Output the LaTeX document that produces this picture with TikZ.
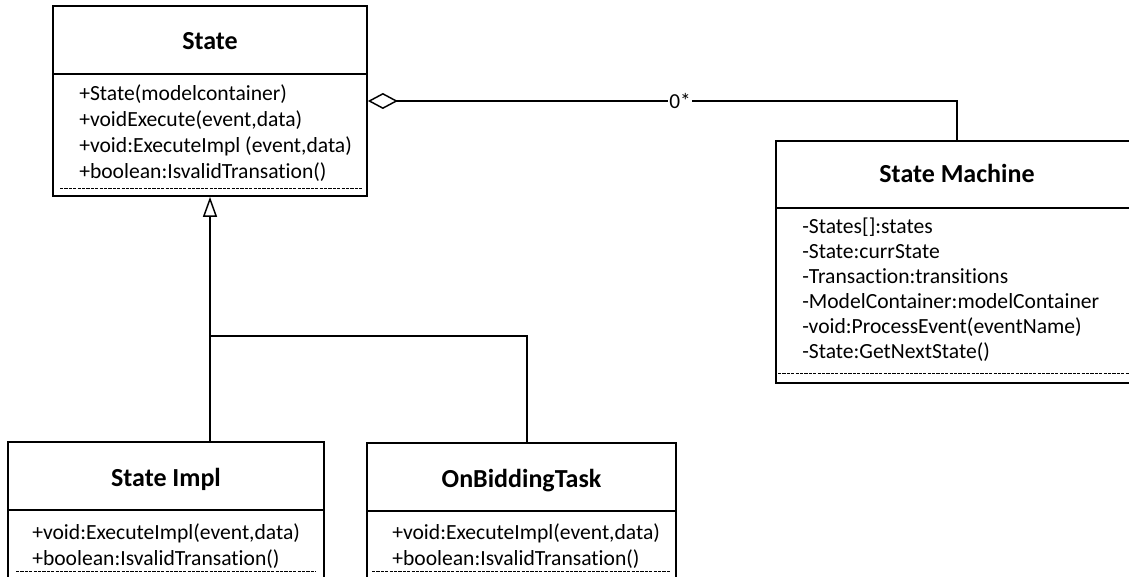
\documentclass[tikz,border=0pt]{standalone}
\usepackage{fontspec}
\setmainfont{Carlito}[Ligatures={NoCommon,NoContextual}]
\usetikzlibrary{arrows.meta}

\tikzset{
  classbox/.style={draw, line width=1.3pt, rectangle, inner sep=0pt, fill=white},
  divider/.style={line width=1.2pt},
  opsep/.style={line width=0.6pt, dash pattern=on 2.4pt off 0.9pt},
  title/.style={anchor=base, inner sep=0pt, font=\fontsize{19.5}{23}\selectfont\bfseries},
  member/.style={anchor=base west, inner sep=0pt, font=\fontsize{16.2}{19}\selectfont},
  link/.style={line width=1.2pt},
  aggregation/.style={link, {Diamond[open, length=22.5pt, width=12pt, line width=1.1pt]}-},
  generalization/.style={link, -{Triangle[open, length=15pt, width=10.5pt, line width=1.1pt]}},
  mult/.style={fill=white, inner sep=1pt, font=\fontsize{16}{19}\selectfont}
}

\begin{document}
\begin{tikzpicture}[x=0.75pt, y=-0.75pt]
\useasboundingbox (0,0) rectangle (1129,577);
\fill[white] (0,0) rectangle (1129,577);
\clip (0,0) rectangle (1129,577);

% ---- State ----
\node[classbox, minimum width=314*0.75pt, minimum height=190*0.75pt] (state) at (210,101) {};
\draw[divider] (53,74) -- (367,74);
\node[title] (stateT) at (210,49.5) {State};
\node[member] (s1) at (79,101) {+State(modelcontainer)};
\node[member] (s2) at (79,127) {+voidExecute(event,data)};
\node[member] (s3) at (79,153) {+void:ExecuteImpl (event,data)};
\node[member] (s4) at (79,179) {+boolean:IsvalidTransation()};
\draw[opsep] (60,188) -- (362,188);

% ---- State Machine ----
\node[classbox, minimum width=362*0.75pt, minimum height=242*0.75pt] (sm) at (957,262) {};
\draw[divider] (776,208) -- (1138,208);
\node[title] (smT) at (957,183) {State Machine};
\node[member] (m1) at (802,234) {-States[]:states};
\node[member] (m2) at (802,259) {-State:currState};
\node[member] (m3) at (802,284) {-Transaction:transitions};
\node[member] (m4) at (802,309) {-ModelContainer:modelContainer};
\node[member] (m5) at (802,334) {-void:ProcessEvent(eventName)};
\node[member] (m6) at (802,359) {-State:GetNextState()};
\draw[opsep] (778,373) -- (1138,373);

% ---- State Impl ----
\node[classbox, minimum width=316*0.75pt, minimum height=198*0.75pt] (impl) at (166,541) {};
\draw[divider] (8,510) -- (324,510);
\node[title] (implT) at (166,486) {State Impl};
\node[member] (i1) at (32,539) {+void:ExecuteImpl(event,data)};
\node[member] (i2) at (32,565) {+boolean:IsvalidTransation()};
\draw[opsep] (16,571) -- (316,571);

% ---- OnBiddingTask ----
\node[classbox, minimum width=309*0.75pt, minimum height=197*0.75pt] (bid) at (521.5,541.5) {};
\draw[divider] (367,511) -- (676,511);
\node[title] (bidT) at (521.5,487) {OnBiddingTask};
\node[member] (b1) at (392,539) {+void:ExecuteImpl(event,data)};
\node[member] (b2) at (392,565) {+boolean:IsvalidTransation()};
\draw[opsep] (372,571) -- (670,571);

% ---- aggregation State <>-- State Machine ----
\coordinate (aggbend) at (957,101);
\draw[aggregation] (state.east |- aggbend) -- node[mult, pos=0.53] (mlabel) {0*} (aggbend) -- (sm.north);

% ---- generalization tree ----
\coordinate (genjoin) at (210,336);
\coordinate (bidin) at (527,443);
\draw[link] (genjoin) -| (bidin);
\draw[generalization] (state.south |- impl.north) -- (state.south);
\end{tikzpicture}
\end{document}
